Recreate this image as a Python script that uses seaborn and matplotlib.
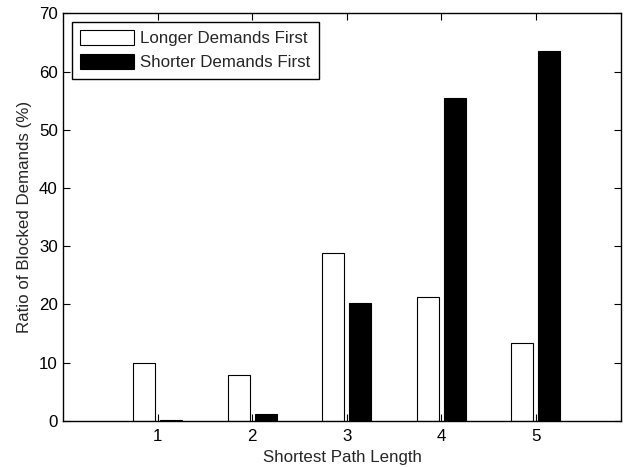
import matplotlib
matplotlib.use("Agg")
import matplotlib.pyplot as plt
import seaborn as sns
import pandas as pd

path_lengths = [1, 2, 3, 4, 5]
longer_first = [10.0, 7.8, 28.8, 21.2, 13.4]
shorter_first = [0.2, 1.2, 20.3, 55.4, 63.5]
series_names = ["Longer Demands First", "Shorter Demands First"]
y_ticks = [0, 10, 20, 30, 40, 50, 60, 70]

df = pd.DataFrame({
    "length": path_lengths * 2,
    "ratio": longer_first + shorter_first,
    "order": [series_names[0]] * len(path_lengths) + [series_names[1]] * len(path_lengths),
})

sns.set_theme(style="white")
plt.rcParams["font.family"] = ["Liberation Sans", "DejaVu Sans"]
plt.rcParams["font.size"] = 12

fig = plt.figure(figsize=(6.29, 4.67), dpi=100)
ax = fig.add_axes([0.1006, 0.0991, 0.8862, 0.8724])

sns.barplot(data=df, x="length", y="ratio", hue="order", hue_order=series_names,
            palette=["white", "black"], saturation=1, native_scale=True,
            width=0.576, gap=0.19, errorbar=None, edgecolor="black",
            linewidth=0.8, ax=ax)

ax.set_xlim(0.0, 5.9)
ax.set_ylim(0, 70)
ax.set_xticks(path_lengths)
ax.set_xticklabels([str(v) for v in path_lengths])
ax.set_yticks(y_ticks)
ax.set_xlabel("Shortest Path Length", fontsize=12.2, labelpad=4)
ax.set_ylabel("Ratio of Blocked Demands (%)", fontsize=12.2, labelpad=5)

for s in ax.spines.values():
    s.set_color("black")
    s.set_linewidth(1.0)
    s.set_visible(True)
ax.tick_params(direction="in", length=5, width=0.8, color="black",
               top=True, right=True, bottom=True, left=True,
               labelsize=12.2, labelcolor="black")
ax.tick_params(axis="x", pad=6)
ax.tick_params(axis="y", pad=4)

sns.move_legend(ax, "upper left", title=None, frameon=True, fancybox=False,
                shadow=False, fontsize=12.2, handlelength=3.2, handleheight=0.95,
                handletextpad=0.35, labelspacing=0.45, borderpad=0.5,
                borderaxespad=0.5, edgecolor="black", framealpha=1)
leg = ax.get_legend()
leg.get_frame().set_linewidth(1.0)
for h in leg.legend_handles:
    h.set_edgecolor("black")
    h.set_linewidth(0.8)

fig.savefig("out.png", dpi=100, facecolor="white")
